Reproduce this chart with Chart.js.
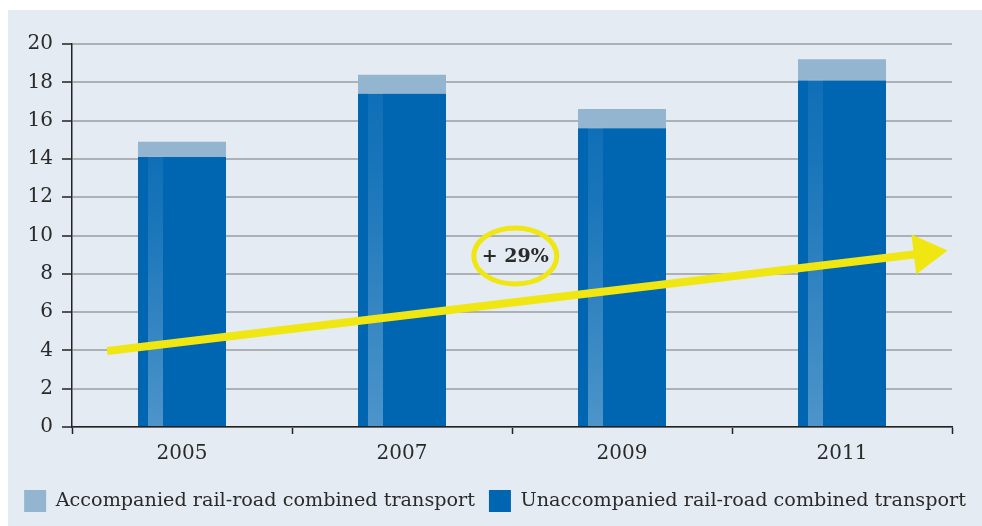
<!DOCTYPE html>
<html><head><meta charset="utf-8">
<script src="https://cdn.jsdelivr.net/npm/chart.js@4/dist/chart.umd.min.js"></script>
<style>
html,body{margin:0;padding:0;background:#fff;}
#wrap{position:absolute;left:8px;top:10px;width:974px;height:516px;background:#e4ebf2;}
</style></head><body>
<div id="wrap"><canvas id="c"></canvas></div>
<script>
// ---- data ----
const categories = ['2005', '2007', '2009', '2011'];
const unaccompanied = [14.1, 17.4, 15.6, 18.1];
const accompanied = [0.8, 1.0, 1.0, 1.1];
const seriesNames = ['Unaccompanied rail-road combined transport', 'Accompanied rail-road combined transport'];
const yMin = 0, yMax = 20, yStep = 2;
// trend arrow: [category index, value]
const trendStart = [-0.34, 3.97];
const trendEnd = [3.48, 9.22];
const trendLabel = '+ 29%';
const trendLabelPos = [1.515, 8.93];

// ---- styles ----
const DARK = '#0066b2', LIGHT = '#93b5cf', YELLOW = '#efe612', TEXT = '#2a2a2a', AXIS = '#222';
const FONT = 'DejaVu Serif';

const stripePlugin = {
  id: 'stripe',
  afterDatasetDraw(chart, args) {
    if (args.index !== 0) return;
    const ctx = chart.ctx;
    args.meta.data.forEach(bar => {
      const w = bar.width;
      const left = bar.x - w / 2 + w * 10 / 88;
      const sw = w * 15 / 88;
      const top = bar.y - 1, bottom = bar.base;
      const g = ctx.createLinearGradient(0, top, 0, bottom);
      g.addColorStop(0, 'rgba(255,255,255,0.06)');
      g.addColorStop(0.25, 'rgba(255,255,255,0.10)');
      g.addColorStop(1, 'rgba(255,255,255,0.30)');
      ctx.save();
      ctx.fillStyle = g;
      ctx.fillRect(left, top, sw, bottom - top);
      ctx.restore();
    });
  }
};

const arrowPlugin = {
  id: 'arrow',
  afterDatasetsDraw(chart) {
    const {ctx, scales: {x, y}} = chart;
    const x1 = x.getPixelForValue(trendStart[0]), y1 = y.getPixelForValue(trendStart[1]);
    const x2 = x.getPixelForValue(trendEnd[0]), y2 = y.getPixelForValue(trendEnd[1]);
    const a = Math.atan2(y2 - y1, x2 - x1), c = Math.cos(a), s = Math.sin(a);
    const headLen = 34, headHalf = 20;
    const bx = x2 - headLen * c, by = y2 - headLen * s;
    ctx.save();
    ctx.strokeStyle = YELLOW; ctx.fillStyle = YELLOW;
    ctx.lineWidth = 8; ctx.lineCap = 'butt';
    ctx.beginPath(); ctx.moveTo(x1, y1); ctx.lineTo(bx + 2 * c, by + 2 * s); ctx.stroke();
    ctx.beginPath();
    ctx.moveTo(x2, y2);
    ctx.lineTo(bx - headHalf * s, by + headHalf * c);
    ctx.lineTo(bx + headHalf * s, by - headHalf * c);
    ctx.closePath(); ctx.fill();
    const cx = x.getPixelForValue(trendLabelPos[0]), cy = y.getPixelForValue(trendLabelPos[1]);
    ctx.lineWidth = 5;
    ctx.beginPath(); ctx.ellipse(cx, cy, 41.5, 28, 0, 0, Math.PI * 2); ctx.stroke();
    ctx.fillStyle = TEXT;
    ctx.font = 'bold 19px "' + FONT + '"';
    ctx.textAlign = 'center'; ctx.textBaseline = 'middle';
    ctx.fillText(trendLabel, cx, cy + 1);
    ctx.restore();
  }
};

new Chart(document.getElementById('c'), {
  type: 'bar',
  data: {
    labels: categories,
    datasets: [
      {label: seriesNames[0], data: unaccompanied, backgroundColor: DARK, borderWidth: 0},
      {label: seriesNames[1], data: accompanied, backgroundColor: LIGHT, borderWidth: 0}
    ]
  },
  options: {
    responsive: true, maintainAspectRatio: false, animation: false,
    layout: {padding: {top: 34, right: 0, bottom: 4, left: 0}},
    datasets: {bar: {categoryPercentage: 1, barPercentage: 0.4}},
    scales: {
      x: {
        stacked: true,
        afterFit: s => { s.height = 49; },
        grid: {offset: true, drawOnChartArea: false, drawTicks: true, tickLength: 7, tickColor: AXIS, tickWidth: 1.5},
        border: {color: AXIS, width: 1.5},
        ticks: {color: TEXT, font: {family: FONT, size: 20}, padding: 8}
      },
      y: {
        stacked: true, min: yMin, max: yMax,
        afterFit: s => { s.width = 64; },
        grid: {color: '#adb0b4', lineWidth: 2, tickLength: 10, tickColor: AXIS, tickWidth: 1.5},
        border: {color: AXIS, width: 1.5},
        ticks: {stepSize: yStep, color: TEXT, font: {family: FONT, size: 20}, padding: 9}
      },
      yRightSpace: {
        position: 'right', min: yMin, max: yMax,
        afterFit: s => { s.width = 30; },
        grid: {display: false, drawTicks: false},
        border: {display: false},
        ticks: {display: false}
      }
    },
    plugins: {
      legend: {
        position: 'bottom', reverse: true,
        labels: {boxWidth: 22, boxHeight: 22, color: TEXT, font: {family: FONT, size: 19.2}, padding: 14}
      },
      tooltip: {enabled: false}
    }
  },
  plugins: [stripePlugin, arrowPlugin]
});
</script>
</body></html>
